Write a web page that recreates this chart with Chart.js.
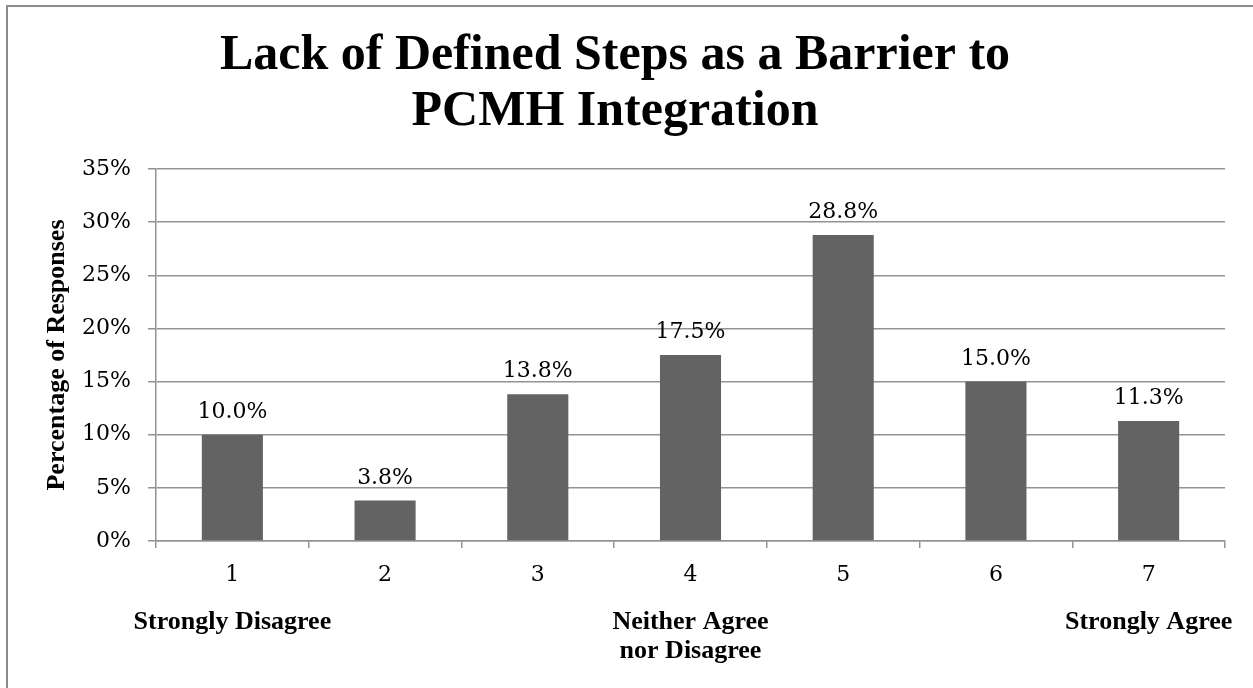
<!DOCTYPE html>
<html><head><meta charset="utf-8">
<script src="https://cdn.jsdelivr.net/npm/chart.js@4/dist/chart.umd.min.js"></script>
<style>html,body{margin:0;padding:0;background:#fff}#wrap{width:1253px;height:688px;position:relative}</style>
</head><body><div id="wrap"><canvas id="c" width="1253" height="688"></canvas></div>
<script>
const titleLines = ["Lack of Defined Steps as a Barrier to", "PCMH Integration"];
const categories = ["1", "2", "3", "4", "5", "6", "7"];
const anchorLabels = ["Strongly Disagree", "", "", ["Neither Agree", "nor Disagree"], "", "", "Strongly Agree"];
const percentages = [10.0, 3.8, 13.8, 17.5, 28.8, 15.0, 11.3];
const yTicks = [0, 5, 10, 15, 20, 25, 30, 35];
const yAxisTitle = "Percentage of Responses";

const NUM_FONT = "'DejaVu Serif', serif";
const TXT_FONT = "'Liberation Serif', 'Times New Roman', serif";
const GRID = '#939393';

const framePlugin = {
  id: 'frame',
  beforeDraw(chart) {
    const ctx = chart.ctx;
    ctx.save();
    ctx.fillStyle = '#fff';
    ctx.fillRect(0, 0, chart.width, chart.height);
    ctx.strokeStyle = '#8c8c8c';
    ctx.lineWidth = 2;
    ctx.strokeRect(7, 6, chart.width + 20, chart.height + 20);
    ctx.restore();
  }
};

const valueLabels = {
  id: 'valueLabels',
  afterDatasetsDraw(chart) {
    const ctx = chart.ctx;
    const meta = chart.getDatasetMeta(0);
    ctx.save();
    ctx.font = "22px " + NUM_FONT;
    ctx.fillStyle = '#000';
    ctx.textAlign = 'center';
    ctx.textBaseline = 'alphabetic';
    meta.data.forEach((bar, i) => {
      ctx.fillText(percentages[i].toFixed(1) + '%', bar.x, bar.y - 17);
    });
    ctx.restore();
  }
};

new Chart(document.getElementById('c'), {
  type: 'bar',
  data: {
    labels: categories,
    datasets: [{
      data: percentages,
      backgroundColor: '#636363',
      borderWidth: 0,
      categoryPercentage: 1.0,
      barPercentage: 0.4,
      xAxisID: 'x',
      yAxisID: 'y'
    }]
  },
  options: {
    responsive: false,
    animation: false,
    devicePixelRatio: 1,
    layout: { padding: { left: 5, right: 28, top: 0, bottom: 0 } },
    plugins: {
      legend: { display: false },
      tooltip: { enabled: false },
      title: {
        display: true,
        text: titleLines,
        color: '#000',
        font: { family: TXT_FONT, size: 50, weight: 'bold', lineHeight: 1.12 },
        padding: { top: 28, bottom: 29 }
      }
    },
    scales: {
      x: {
        position: 'bottom',
        offset: true,
        grid: { display: true, drawOnChartArea: false, drawTicks: true, tickLength: 7, color: GRID, lineWidth: 1.5, offset: true },
        border: { display: true, color: GRID, width: 1.5 },
        ticks: { color: '#000', font: { family: NUM_FONT, size: 22 }, padding: 14, autoSkip: false, maxRotation: 0 },
        afterFit(s) { s.height = 58; }
      },
      x2: {
        type: 'category',
        position: 'bottom',
        labels: anchorLabels,
        offset: true,
        grid: { display: false, drawTicks: false },
        border: { display: false },
        ticks: { color: '#000', font: { family: TXT_FONT, size: 26, weight: 'bold', lineHeight: 1.12 }, padding: 9, autoSkip: false, maxRotation: 0 },
        afterFit(s) { s.height = 89; }
      },
      y: {
        min: yTicks[0],
        max: yTicks[yTicks.length - 1],
        afterBuildTicks(s) { s.ticks = yTicks.map(v => ({ value: v })); },
        grid: { color: GRID, lineWidth: 1.5, tickLength: 8, drawTicks: true },
        border: { display: true, color: GRID, width: 1.5 },
        ticks: { color: '#000', font: { family: NUM_FONT, size: 22 }, padding: 17, callback: v => v + '%' },
        title: {
          display: true,
          text: yAxisTitle,
          color: '#000',
          font: { family: TXT_FONT, size: 26, weight: 'bold', lineHeight: 1.2 },
          padding: { top: 37, bottom: 0 }
        },
        afterFit(s) { s.width = 151; }
      }
    }
  },
  plugins: [framePlugin, valueLabels]
});
</script>
</body></html>
